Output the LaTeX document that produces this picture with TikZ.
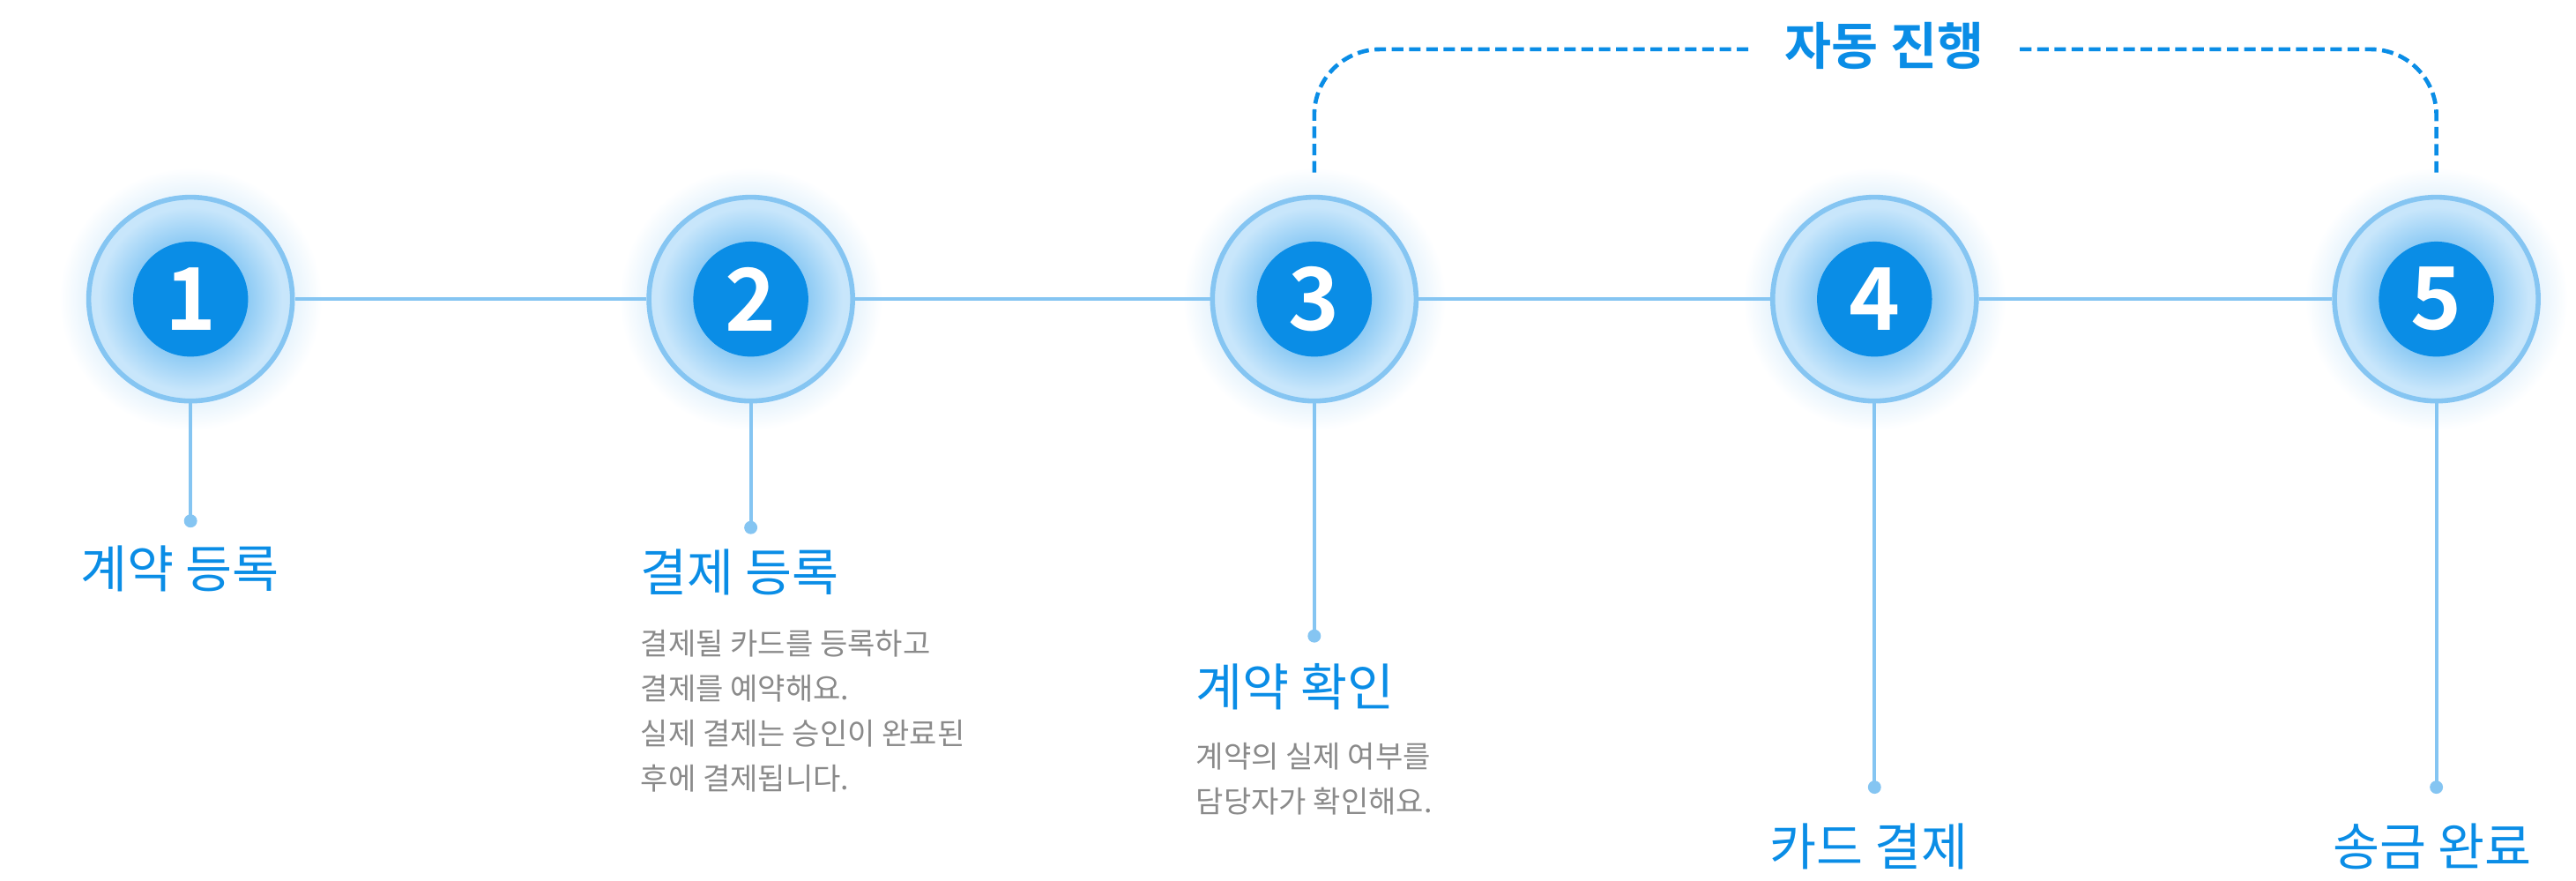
\documentclass[tikz,border=0pt]{standalone}
\usepackage{fontspec}
\setmainfont{Noto Sans CJK KR}
\newfontfamily\bfk{Noto Sans CJK KR Bold}
\definecolor{mainb}{HTML}{0A8DE6}
\definecolor{ringb}{HTML}{85C5F2}
\definecolor{fillb}{HTML}{C8E6FB}
\definecolor{greyt}{HTML}{8A8A8A}
\tikzset{
 ring/.style={circle,draw=ringb,line width=3mm,fill=fillb,minimum size=124mm,inner sep=0},
 dotp/.style={circle,fill=ringb,minimum size=8mm,inner sep=0},
 ttl/.style={anchor=west,text=mainb,font=\fontsize{88}{100}\selectfont,inner sep=0},
 desc/.style={anchor=north west,text=greyt,font=\fontsize{52}{78}\selectfont,align=left,inner sep=0},
 conn/.style={draw=ringb,line width=2mm},
 dsh/.style={draw=mainb,line width=2.5mm,dash pattern=on 7mm off 3.5mm}
}
\begin{document}
\begin{tikzpicture}[x=1mm,y=-1mm]
\useasboundingbox (0,0) rectangle (1568,536);
\foreach \i/\x in {1/116,2/457,3/800,4/1141,5/1483}{
  \shade[inner color=ringb!90, outer color=white] (\x,182) circle (80);
}
\foreach \i/\x in {1/116,2/457,3/800,4/1141,5/1483}{
  \node[ring] (c\i) at (\x,182) {};
  \shade[inner color=mainb!85, outer color=fillb] (\x,182) circle (56);
  \node[circle,fill=mainb,minimum size=70mm,inner sep=0,text=white,font=\bfk\fontsize{150}{150}\selectfont] (n\i) at (\x,182) {\i};
}
\draw[conn] (c1) -- (c2); \draw[conn] (c2) -- (c3); \draw[conn] (c3) -- (c4); \draw[conn] (c4) -- (c5);
\node[dotp] (d1) at (116,317) {};
\node[dotp] (d2) at (457,321) {};
\node[dotp] (d3) at (800,387) {};
\node[dotp] (d4) at (1141,479) {};
\node[dotp] (d5) at (1483,479) {};
\foreach \i in {1,...,5}{\draw[conn] (c\i.south) -- (d\i.center);}
\node[ttl] (t1) at (49,346) {계약 등록};
\node[ttl] (t2) at (390,348) {결제 등록};
\node[ttl] (t3) at (728,418) {계약 확인};
\node[ttl] (t4) at (1077,515) {카드 결제};
\node[ttl] (t5) at (1420,515) {송금 완료};
\node[desc] (g2) at (390,383) {결제될 카드를 등록하고\\결제를 예약해요.\\실제 결제는 승인이 완료된\\후에 결제됩니다.};
\node[desc] (g3) at (728,452) {계약의 실제 여부를\\담당자가 확인해요.};
\node[text=mainb,font=\bfk\fontsize{88}{100}\selectfont,inner sep=0] (auto) at (1147,28) {자동 진행};
\coordinate (a1) at (800,105); \coordinate (a2) at (1483,105);
\draw[dsh,rounded corners=40mm] (a1) -- (800,30) -- ([xshift=-22mm]auto.west|-0,30);
\draw[dsh,rounded corners=40mm] ([xshift=22mm]auto.east|-0,30) -- (1483,30) -- (a2);
\end{tikzpicture}
\end{document}
